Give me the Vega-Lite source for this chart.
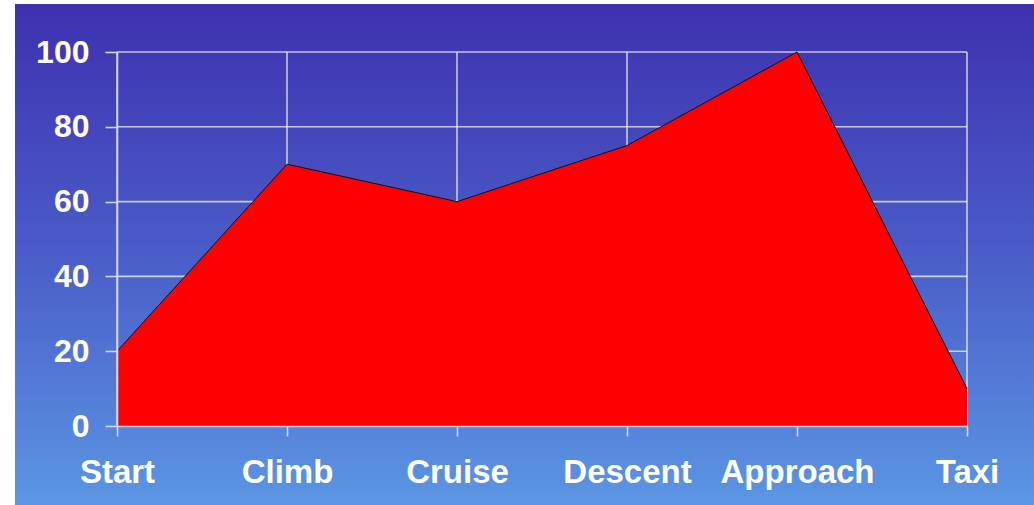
{
  "$schema": "https://vega.github.io/schema/vega-lite/v6.json",
  "width": 1019,
  "height": 501,
  "autosize": {"type": "none"},
  "padding": {"left": 15, "top": 4, "right": 0, "bottom": 0},
  "background": "white",
  "view": {
    "stroke": null,
    "fill": {
      "gradient": "linear",
      "x1": 0, "y1": 0, "x2": 0, "y2": 1,
      "stops": [
        {"offset": 0, "color": "#3E30AF"},
        {"offset": 0.5, "color": "#4A5DC8"},
        {"offset": 1, "color": "#5B96E3"}
      ]
    }
  },
  "datasets": {
    "phases": [
      {"phase": "Start", "value": 20},
      {"phase": "Climb", "value": 70},
      {"phase": "Cruise", "value": 60},
      {"phase": "Descent", "value": 75},
      {"phase": "Approach", "value": 100},
      {"phase": "Taxi", "value": 10}
    ],
    "hgrid": [
      {"level": 0}, {"level": 20}, {"level": 40}, {"level": 60}, {"level": 80}, {"level": 100}
    ]
  },
  "layer": [
    {
      "data": {"name": "phases"},
      "mark": {"type": "rule", "color": "#FFFFFF", "opacity": 0.7, "strokeWidth": 1.6},
      "encoding": {
        "x": {"field": "phase", "type": "ordinal"},
        "y": {"datum": 0, "type": "quantitative"},
        "y2": {"datum": 100}
      }
    },
    {
      "data": {"name": "hgrid"},
      "mark": {"type": "rule", "color": "#FFFFFF", "opacity": 0.7, "strokeWidth": 1.6},
      "encoding": {
        "y": {"field": "level", "type": "quantitative"},
        "x": {"datum": "Start", "type": "ordinal"},
        "x2": {"datum": "Taxi"}
      }
    },
    {
      "data": {"name": "phases"},
      "mark": {"type": "area", "color": "#FF0000", "opacity": 1, "line": {"color": "#111111", "strokeWidth": 1}},
      "encoding": {
        "x": {"field": "phase", "type": "ordinal"},
        "y": {"field": "value", "type": "quantitative"}
      }
    }
  ],
  "encoding": {
    "x": {
      "field": "phase",
      "type": "ordinal",
      "sort": ["Start", "Climb", "Cruise", "Descent", "Approach", "Taxi"],
      "scale": {"type": "point", "domain": ["Start", "Climb", "Cruise", "Descent", "Approach", "Taxi"], "range": [102, 952], "padding": 0},
      "axis": {
        "title": null,
        "orient": "bottom",
        "offset": -79,
        "grid": false,
        "zindex": 1,
        "domainColor": "#D4D4F6",
        "domainWidth": 1.6,
        "tickColor": "#D4D4F6",
        "tickWidth": 1.6,
        "tickSize": 10,
        "labelAngle": 0,
        "labelColor": "#FFFFFF",
        "labelFont": "Liberation Sans",
        "labelFontWeight": "bold",
        "labelFontSize": 33,
        "labelPadding": 20,
        "labelOverlap": false
      }
    },
    "y": {
      "type": "quantitative",
      "scale": {"domain": [0, 100], "range": [422, 48], "nice": false, "zero": true},
      "axis": {
        "title": null,
        "orient": "left",
        "offset": -102,
        "grid": false,
        "zindex": 1,
        "values": [0, 20, 40, 60, 80, 100],
        "domainColor": "#D4D4F6",
        "domainWidth": 1.6,
        "tickColor": "#D4D4F6",
        "tickWidth": 1.6,
        "tickSize": 12,
        "labelColor": "#FFFFFF",
        "labelFont": "Liberation Sans",
        "labelFontWeight": "bold",
        "labelFontSize": 32,
        "labelPadding": 16,
        "labelOverlap": false
      }
    }
  }
}
